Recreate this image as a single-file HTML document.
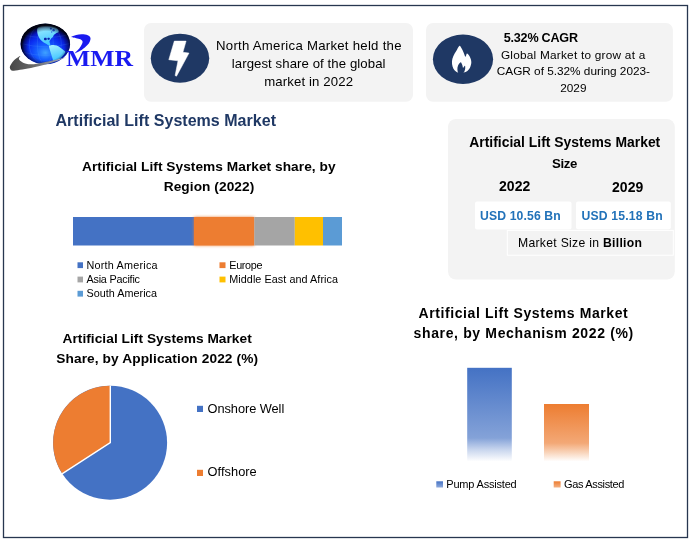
<!DOCTYPE html>
<html lang="en"><head><meta charset="utf-8"><title>Artificial Lift Systems Market</title>
<style>
html,body{margin:0;padding:0;background:#fff;}
body{width:692px;height:544px;position:relative;overflow:hidden;font-family:"Liberation Sans", sans-serif;color:#000;}
.art{position:absolute;left:0;top:0;}
.t{position:absolute;white-space:nowrap;margin:0;}
.t b{font-weight:700;}
</style></head><body>

<svg class="art" width="692" height="544" viewBox="0 0 692 544">
<defs>
<radialGradient id="gl" cx="0.5" cy="0.68" r="0.62" fx="0.5" fy="0.72">
<stop offset="0" stop-color="#40a2ff"/><stop offset="0.28" stop-color="#1762ff"/><stop offset="0.6" stop-color="#0a2cf0"/><stop offset="0.82" stop-color="#0714b4"/><stop offset="0.95" stop-color="#040850"/><stop offset="1" stop-color="#02041e"/>
</radialGradient>
<linearGradient id="land" x1="0" y1="0" x2="0.3" y2="1"><stop offset="0" stop-color="#a8f2ff"/><stop offset="1" stop-color="#3fc4ff"/></linearGradient>
<radialGradient id="rim" cx="0.52" cy="0.55" r="0.5"><stop offset="0.72" stop-color="#000428" stop-opacity="0"/><stop offset="0.9" stop-color="#000428" stop-opacity="0.45"/><stop offset="1" stop-color="#00020f" stop-opacity="0.95"/></radialGradient>
<linearGradient id="sw" x1="0" y1="0" x2="1" y2="0"><stop offset="0" stop-color="#474747"/><stop offset="0.4" stop-color="#666666"/><stop offset="0.75" stop-color="#8a8f9c"/><stop offset="1" stop-color="#aab0c4"/></linearGradient>
<linearGradient id="b1" x1="0" y1="0" x2="0" y2="1"><stop offset="0" stop-color="#4472c4"/><stop offset="0.75" stop-color="#84a2d8"/><stop offset="0.87" stop-color="#c6d4ed"/><stop offset="1" stop-color="#ffffff"/></linearGradient>
<linearGradient id="b2" x1="0" y1="0" x2="0" y2="1"><stop offset="0" stop-color="#ed7d31"/><stop offset="0.68" stop-color="#f3a876"/><stop offset="0.85" stop-color="#f9d6bd"/><stop offset="1" stop-color="#ffffff"/></linearGradient>
<linearGradient id="m1" x1="0" y1="0" x2="0" y2="1"><stop offset="0" stop-color="#4472c4"/><stop offset="1" stop-color="#8faadc"/></linearGradient>
<linearGradient id="m2" x1="0" y1="0" x2="0" y2="1"><stop offset="0" stop-color="#ed7d31"/><stop offset="1" stop-color="#f4b183"/></linearGradient>
<filter id="glow" x="-20%" y="-30%" width="140%" height="160%"><feGaussianBlur stdDeviation="1.6"/></filter>
<clipPath id="gc"><ellipse cx="45.3" cy="43.9" rx="24.8" ry="20.3"/></clipPath>
</defs>
<!-- outer frame -->
<rect x="3.5" y="5.5" width="684" height="532" fill="none" stroke="#27364f" stroke-width="1.3"/>
<!-- info boxes -->
<rect x="144" y="23" width="269" height="78.7" rx="7" fill="#f3f3f3"/>
<rect x="426" y="23" width="246.9" height="78.7" rx="7" fill="#f3f3f3"/>
<rect x="448" y="119" width="226.8" height="160.6" rx="8" fill="#f3f3f3"/>
<rect x="475" y="201.5" width="96.5" height="28" rx="2" fill="#ffffff"/>
<rect x="576" y="201.5" width="94.8" height="27.7" rx="2" fill="#ffffff"/>
<rect x="507.3" y="230.4" width="166" height="24.8" fill="#f3f3f3" stroke="#ffffff" stroke-width="1"/>
<!-- icons -->
<ellipse cx="180" cy="58.2" rx="29.2" ry="24.5" fill="#1f3864"/>
<polygon points="174.3,41.1 186.1,41.1 182.9,52.3 189.0,53.1 176.5,76.2 175.1,75.5 178.0,60.8 168.8,59.7" fill="#fff" stroke="#fff" stroke-width="0.5" stroke-linejoin="round"/>
<ellipse cx="463" cy="59.3" rx="30.1" ry="24.7" fill="#1f3864"/>
<path d="M459.32,45.88C458.47,46.37 457.24,49.31 456.24,51.03C455.23,52.75 454.00,54.46 453.29,56.18C452.58,57.89 452.09,59.61 451.97,61.32C451.85,63.04 452.09,64.94 452.56,66.47C453.02,68.00 453.72,69.45 454.76,70.51C455.81,71.58 457.46,72.48 458.81,72.87C460.16,73.26 461.57,73.08 462.85,72.87C464.14,72.66 465.37,72.44 466.53,71.62C467.69,70.80 469.04,69.41 469.84,67.94C470.63,66.47 471.19,64.39 471.31,62.79C471.43,61.20 471.00,59.67 470.57,58.38C470.14,57.10 469.35,55.87 468.74,55.07C468.12,54.28 467.45,53.32 466.90,53.60C466.35,53.88 465.98,56.95 465.43,56.76C464.88,56.58 464.26,53.95 463.59,52.50C462.91,51.05 462.09,49.19 461.38,48.09C460.67,46.99 460.18,45.39 459.32,45.88Z" fill="#fff"/>
<path d="M460.65,62.28C459.94,62.34 458.61,64.40 458.07,65.59C457.53,66.78 457.31,68.14 457.41,69.41C457.51,70.69 457.73,72.60 458.66,73.24C459.59,73.87 462.02,73.60 463.00,73.24C463.98,72.87 464.18,71.84 464.54,71.03C464.91,70.22 465.14,69.26 465.21,68.38C465.27,67.50 465.27,65.83 464.91,65.74C464.56,65.64 463.50,67.88 463.07,67.79C462.64,67.71 462.74,66.14 462.34,65.22C461.93,64.30 461.36,62.22 460.65,62.28Z" fill="#1f3864"/>
<!-- logo -->
<ellipse cx="45.3" cy="43.9" rx="24.8" ry="20.3" fill="url(#gl)"/>
<g clip-path="url(#gc)">
<g fill="none" stroke="#5aa8ff" stroke-width="0.35" opacity="0.55">
<ellipse cx="45.3" cy="43.9" rx="8" ry="20.3"/><ellipse cx="45.3" cy="43.9" rx="16" ry="20.3"/>
<path d="M20.5,43.5 Q45.3,50 70.1,43.5 M22.5,35 Q45.3,40 68,35 M22.5,52 Q45.3,59 68,52"/>
</g>
<path d="M37.69,27.66C38.50,26.54 40.32,26.21 42.14,25.80C43.96,25.40 46.59,25.13 48.61,25.24C50.63,25.34 52.72,25.78 54.27,26.45C55.82,27.12 57.21,28.34 57.91,29.28C58.61,30.23 58.84,31.41 58.48,32.11C58.11,32.81 56.50,33.02 55.73,33.49C54.96,33.96 54.35,34.37 53.87,34.94C53.38,35.52 53.26,36.36 52.82,36.97C52.37,37.57 51.63,38.09 51.20,38.59C50.77,39.08 50.52,39.49 50.23,39.96C49.93,40.43 49.47,40.88 49.42,41.42C49.36,41.96 49.77,42.55 49.90,43.20C50.04,43.84 50.42,44.90 50.23,45.30C50.04,45.71 49.38,45.84 48.77,45.62C48.16,45.41 47.49,44.57 46.59,44.01C45.68,43.44 44.36,42.93 43.35,42.23C42.34,41.53 41.33,40.74 40.52,39.80C39.71,38.86 39.03,37.78 38.50,36.56C37.96,35.35 37.42,34.00 37.28,32.52C37.15,31.03 36.88,28.78 37.69,27.66Z" fill="url(#land)"/>
<path d="M49.01,46.27C49.16,45.44 50.13,45.52 50.87,45.30C51.62,45.09 52.49,44.92 53.46,44.98C54.43,45.03 55.49,45.14 56.70,45.62C57.91,46.11 59.64,47.18 60.74,47.89C61.85,48.60 62.58,49.29 63.33,49.91C64.09,50.53 65.14,50.87 65.28,51.61C65.41,52.35 64.83,53.39 64.14,54.36C63.45,55.33 62.32,56.49 61.15,57.44C59.98,58.38 58.36,59.43 57.10,60.03C55.85,60.62 54.39,61.27 53.62,61.00C52.86,60.73 52.90,59.51 52.49,58.41C52.09,57.30 51.62,55.71 51.20,54.36C50.78,53.01 50.35,51.67 49.98,50.32C49.62,48.97 48.86,47.11 49.01,46.27Z" fill="url(#land)"/>
<path d="M46.83,38.99C46.83,39.37 46.46,39.94 46.10,40.13C45.74,40.31 45.01,40.31 44.64,40.13C44.28,39.94 43.92,39.37 43.92,38.99C43.92,38.61 44.28,38.04 44.64,37.86C45.01,37.67 45.74,37.67 46.10,37.86C46.46,38.04 46.83,38.61 46.83,38.99Z" fill="#0a1fa8"/>
<path d="M49.90,38.83C49.90,39.16 49.58,39.67 49.26,39.84C48.93,40.01 48.28,40.01 47.96,39.84C47.64,39.67 47.31,39.16 47.31,38.83C47.31,38.49 47.64,37.99 47.96,37.82C48.28,37.65 48.93,37.65 49.26,37.82C49.58,37.99 49.90,38.49 49.90,38.83Z" fill="#0a1fa8"/>
<path d="M51.93,28.63C51.93,28.91 51.66,29.32 51.40,29.45C51.14,29.59 50.61,29.59 50.35,29.45C50.08,29.32 49.82,28.91 49.82,28.63C49.82,28.36 50.08,27.95 50.35,27.81C50.61,27.68 51.14,27.68 51.40,27.81C51.66,27.95 51.93,28.36 51.93,28.63Z" fill="#0b2fd0" opacity="0.8"/>
<path d="M55.00,30.25C55.00,30.61 54.66,31.15 54.31,31.32C53.97,31.50 53.28,31.50 52.94,31.32C52.59,31.15 52.25,30.61 52.25,30.25C52.25,29.90 52.59,29.36 52.94,29.18C53.28,29.00 53.97,29.00 54.31,29.18C54.66,29.36 55.00,29.90 55.00,30.25Z" fill="#0b2fd0" opacity="0.8"/>
<path d="M52.41,32.03C52.41,32.22 52.23,32.51 52.05,32.60C51.86,32.69 51.50,32.69 51.32,32.60C51.14,32.51 50.95,32.22 50.95,32.03C50.95,31.84 51.14,31.56 51.32,31.46C51.50,31.37 51.86,31.37 52.05,31.46C52.23,31.56 52.41,31.84 52.41,32.03Z" fill="#0b2fd0" opacity="0.8"/>
<ellipse cx="45.3" cy="43.9" rx="24.8" ry="20.3" fill="url(#rim)"/>
</g>
<path d="M20.26,56.09C19.64,56.21 16.68,58.02 15.17,59.33C13.67,60.64 12.13,62.53 11.24,63.95C10.36,65.38 9.59,66.77 9.86,67.88C10.13,69.00 10.78,70.37 12.86,70.66C14.94,70.95 18.83,70.18 22.34,69.62C25.85,69.06 30.05,68.17 33.90,67.31C37.76,66.44 41.61,65.48 45.46,64.42C49.32,63.36 53.67,62.08 57.02,60.95C60.38,59.81 65.58,57.85 65.58,57.60C65.58,57.34 60.38,58.71 57.02,59.45C53.67,60.18 49.32,61.20 45.46,61.99C41.61,62.78 37.14,63.90 33.90,64.18C30.66,64.47 28.20,64.22 26.04,63.72C23.88,63.22 22.15,62.03 20.95,61.18C19.76,60.33 18.99,59.48 18.87,58.64C18.76,57.79 20.88,55.98 20.26,56.09Z" fill="url(#sw)"/>
<path d="M71.33,36.79C71.33,36.25 74.41,35.37 76.18,34.94C77.96,34.52 80.04,34.21 81.97,34.25C83.89,34.29 86.34,34.60 87.75,35.17C89.15,35.75 90.06,36.68 90.40,37.72C90.75,38.76 90.37,40.14 89.83,41.42C89.29,42.69 88.48,43.96 87.17,45.35C85.86,46.73 84.03,48.43 81.97,49.74C79.90,51.05 75.28,53.38 74.80,53.21C74.32,53.03 77.92,50.16 79.08,48.70C80.23,47.24 81.16,45.64 81.73,44.42C82.31,43.21 82.77,42.28 82.54,41.42C82.31,40.55 81.41,39.76 80.35,39.22C79.29,38.68 77.69,38.58 76.18,38.18C74.68,37.77 71.33,37.33 71.33,36.79Z" fill="#1a1af0"/>
<!-- region stacked bar -->
<rect x="73" y="217" width="121" height="28.5" fill="#4472c4"/>
<rect x="194" y="217" width="60.3" height="28.5" fill="#ed7d31" filter="url(#glow)" opacity="0.9"/>
<rect x="194" y="217" width="60.3" height="28.5" fill="#ed7d31"/>
<rect x="254.3" y="217" width="40.5" height="28.5" fill="#a5a5a5"/>
<rect x="294.8" y="217" width="28.2" height="28.5" fill="#ffc000"/>
<rect x="323" y="217" width="19" height="28.5" fill="#5b9bd5"/>
<!-- region legend markers -->
<rect x="77.5" y="262.3" width="5.5" height="5.8" fill="#4472c4"/>
<rect x="77.5" y="276.6" width="5.5" height="5.8" fill="#a5a5a5"/>
<rect x="77.5" y="290.8" width="5.5" height="5.8" fill="#5b9bd5"/>
<rect x="219.5" y="262.3" width="6" height="5.8" fill="#ed7d31"/>
<rect x="219.5" y="276.6" width="6" height="5.8" fill="#ffc000"/>
<!-- pie -->
<circle cx="110.1" cy="442.7" r="57" fill="#4472c4"/>
<path d="M110.1,442.7 L110.1,385.7 A57,57 0 0 0 62.2,473.6 Z" fill="#ed7d31"/>
<path d="M110.3,385.4 L110.3,442.6 L62,473.8" fill="none" stroke="#fff" stroke-width="1.4"/>
<rect x="197" y="405.8" width="6" height="6.2" fill="#4472c4"/>
<rect x="197" y="469.8" width="6" height="6.2" fill="#ed7d31"/>
<!-- mechanism bars -->
<rect x="467.2" y="367.8" width="44.6" height="93.6" fill="url(#b1)"/>
<rect x="544" y="404" width="45" height="57.4" fill="url(#b2)"/>
<rect x="436.3" y="481.3" width="6.7" height="6.2" fill="url(#m1)"/>
<rect x="553.7" y="481.3" width="6.9" height="6.2" fill="url(#m2)"/>
</svg>
<div class="t" id="t0" style="left:216.00px;top:39.00px;font-size:13.2px;line-height:13.2px;letter-spacing:0.264px;">North America Market held the</div>
<div class="t" id="t1" style="left:231.75px;top:57.00px;font-size:13.2px;line-height:13.2px;letter-spacing:0.076px;">largest share of the global</div>
<div class="t" id="t2" style="left:264.25px;top:74.50px;font-size:13.2px;line-height:13.2px;letter-spacing:0.117px;">market in 2022</div>
<div class="t" id="t3" style="left:55.50px;top:113.25px;font-size:16.0px;line-height:16.0px;font-weight:700;color:#1f3864;letter-spacing:0.030px;">Artificial Lift Systems Market</div>
<div class="t" id="t4" style="left:503.80px;top:32.01px;font-size:12.6px;line-height:12.6px;font-weight:700;letter-spacing:-0.233px;">5.32% CAGR</div>
<div class="t" id="t5" style="left:500.90px;top:50.01px;font-size:11.8px;line-height:11.8px;letter-spacing:0.240px;">Global Market to grow at a</div>
<div class="t" id="t6" style="left:496.80px;top:66.01px;font-size:11.8px;line-height:11.8px;letter-spacing:-0.010px;">CAGR of 5.32% during 2023-</div>
<div class="t" id="t7" style="left:560.25px;top:83.01px;font-size:11.8px;line-height:11.8px;letter-spacing:0.000px;">2029</div>
<div class="t" id="t8" style="left:469.25px;top:135.51px;font-size:13.9px;line-height:13.9px;font-weight:700;letter-spacing:0.011px;">Artificial Lift Systems Market</div>
<div class="t" id="t9" style="left:552.00px;top:156.75px;font-size:13.2px;line-height:13.2px;font-weight:700;letter-spacing:-0.380px;">Size</div>
<div class="t" id="t10" style="left:499.00px;top:179.01px;font-size:14px;line-height:14px;font-weight:700;letter-spacing:0.031px;">2022</div>
<div class="t" id="t11" style="left:612.00px;top:179.51px;font-size:14px;line-height:14px;font-weight:700;letter-spacing:0.031px;">2029</div>
<div class="t" id="t12" style="left:480.00px;top:209.77px;font-size:12.2px;line-height:12.2px;font-weight:700;color:#2272b9;letter-spacing:0.136px;">USD 10.56 Bn</div>
<div class="t" id="t13" style="left:581.50px;top:209.77px;font-size:12.2px;line-height:12.2px;font-weight:700;color:#2272b9;letter-spacing:0.182px;">USD 15.18 Bn</div>
<div class="t" id="t14" style="left:518.00px;top:237.27px;font-size:12.2px;line-height:12.2px;letter-spacing:0.292px;">Market Size in <b>Billion</b></div>
<div class="t" id="t15" style="left:82.00px;top:159.51px;font-size:13.7px;line-height:13.7px;font-weight:700;letter-spacing:0.044px;">Artificial Lift Systems Market share, by</div>
<div class="t" id="t16" style="left:163.75px;top:179.51px;font-size:13.7px;line-height:13.7px;font-weight:700;letter-spacing:0.061px;">Region (2022)</div>
<div class="t" id="t17" style="left:86.50px;top:259.50px;font-size:10.8px;line-height:10.8px;letter-spacing:0.216px;">North America</div>
<div class="t" id="t18" style="left:86.50px;top:273.75px;font-size:10.8px;line-height:10.8px;letter-spacing:-0.210px;">Asia Pacific</div>
<div class="t" id="t19" style="left:86.50px;top:288.00px;font-size:10.8px;line-height:10.8px;letter-spacing:0.023px;">South America</div>
<div class="t" id="t20" style="left:229.25px;top:259.50px;font-size:10.8px;line-height:10.8px;letter-spacing:-0.316px;">Europe</div>
<div class="t" id="t21" style="left:229.25px;top:273.75px;font-size:10.8px;line-height:10.8px;letter-spacing:0.062px;">Middle East and Africa</div>
<div class="t" id="t22" style="left:62.50px;top:331.76px;font-size:13.7px;line-height:13.7px;font-weight:700;letter-spacing:0.047px;">Artificial Lift Systems Market</div>
<div class="t" id="t23" style="left:56.25px;top:351.76px;font-size:13.7px;line-height:13.7px;font-weight:700;letter-spacing:0.102px;">Share, by Application 2022 (%)</div>
<div class="t" id="t24" style="left:207.50px;top:403.01px;font-size:12.8px;line-height:12.8px;letter-spacing:-0.050px;">Onshore Well</div>
<div class="t" id="t25" style="left:207.50px;top:466.26px;font-size:12.8px;line-height:12.8px;letter-spacing:0.056px;">Offshore</div>
<div class="t" id="t26" style="left:418.50px;top:306.26px;font-size:14.0px;line-height:14.0px;font-weight:700;letter-spacing:0.589px;">Artificial Lift Systems Market</div>
<div class="t" id="t27" style="left:413.50px;top:326.26px;font-size:14.0px;line-height:14.0px;font-weight:700;letter-spacing:0.646px;">share, by Mechanism 2022 (%)</div>
<div class="t" id="t28" style="left:446.25px;top:479.00px;font-size:11.0px;line-height:11.0px;letter-spacing:-0.189px;">Pump Assisted</div>
<div class="t" id="t29" style="left:564.00px;top:479.00px;font-size:11.0px;line-height:11.0px;letter-spacing:-0.337px;">Gas Assisted</div>
<div class="t" id="t30" style="left:65.80px;top:48.41px;font-size:22.3px;line-height:22.3px;font-weight:700;color:#1a1af0;font-family:'Liberation Serif', serif;transform-origin:0 0;transform:scaleX(1.1511);">MMR</div>
</body></html>
